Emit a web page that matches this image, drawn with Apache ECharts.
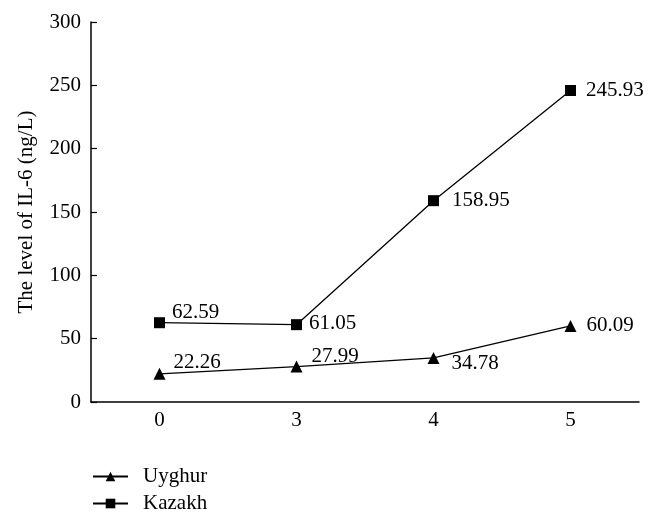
<!DOCTYPE html>
<html><head><meta charset="utf-8">
<script src="https://cdn.jsdelivr.net/npm/echarts@6/dist/echarts.min.js"></script>
<style>html,body{margin:0;padding:0;background:#fff}#c{width:660px;height:524px}</style>
</head><body><div id="c"></div>
<script>
const categories = ['0', '3', '4', '5'];
const uyghur = [22.26, 27.99, 34.78, 60.09];
const kazakh = [62.59, 61.05, 158.95, 245.93];
const yTicks = [0, 50, 100, 150, 200, 250, 300];

const font = '"Liberation Serif", "Times New Roman", serif';
const fs = 21;
const chart = echarts.init(document.getElementById('c'), null, {renderer: 'canvas'});
const uyLabelOff = [[3, -11], [4, -10], [7, 6], [5, 0]];
const kzLabelOff = [[2, -10], [2, -1], [8, 0], [5, 0]];
function mk(vals, off) {
  return vals.map((v, i) => ({
    value: v,
    label: {show: true, position: 'right', offset: off[i], formatter: v.toFixed(2),
      color: '#000', fontFamily: font, fontSize: fs}
  }));
}
chart.setOption({
  animation: false,
  textStyle: {fontFamily: font, fontSize: fs, color: '#000'},
  grid: {left: 91, top: 22, right: 21, bottom: 122},
  legend: {
    orient: 'vertical', left: 92, top: 466, itemGap: 6, itemWidth: 35, itemHeight: 12,
    padding: 0,
    textStyle: {fontFamily: font, fontSize: fs, fontWeight: 'normal', color: '#000', padding: [0, 0, 0, 10]},
    data: ['Uyghur', 'Kazakh']
  },
  xAxis: {
    type: 'category', data: categories, boundaryGap: true,
    axisLine: {lineStyle: {color: '#000', width: 1.5}},
    axisTick: {inside: true, length: 6, lineStyle: {color: '#000', width: 1.2}},
    axisLabel: {color: '#000', fontFamily: font, fontSize: fs, margin: 8}
  },
  yAxis: {
    type: 'value', min: 0, max: 300, interval: 50,
    name: 'The level of IL-6 (ng/L)', nameLocation: 'middle', nameGap: 54,
    nameTextStyle: {fontFamily: font, fontSize: fs, color: '#000'},
    axisLine: {show: true, lineStyle: {color: '#000', width: 1.5}},
    axisTick: {show: true, inside: true, length: 6, lineStyle: {color: '#000', width: 1.2}},
    axisLabel: {color: '#000', fontFamily: font, fontSize: fs, margin: 10},
    splitLine: {show: false}
  },
  series: [
    {name: 'Uyghur', type: 'line', data: mk(uyghur, uyLabelOff), symbol: 'triangle', symbolSize: 12,
      lineStyle: {color: '#000', width: 1.3}, itemStyle: {color: '#000'}},
    {name: 'Kazakh', type: 'line', data: mk(kazakh, kzLabelOff), symbol: 'rect', symbolSize: 11,
      lineStyle: {color: '#000', width: 1.3}, itemStyle: {color: '#000'}}
  ]
});
</script></body></html>
